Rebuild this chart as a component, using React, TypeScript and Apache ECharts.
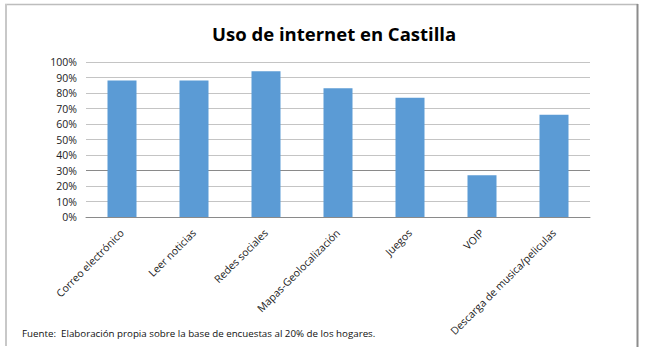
import React, { useEffect, useRef } from "react";
import * as echarts from "echarts";

const title = "Uso de internet en Castilla";
const footnote = "Fuente:  Elaboración propia sobre la base de encuestas al 20% de los hogares.";
const categories = [
  "Correo electrónico",
  "Leer noticias",
  "Redes sociales",
  "Mapas-Geolocalización",
  "Juegos",
  "VOIP",
  "Descarga de musica/peliculas",
];
const values = [88, 88, 94, 83, 77, 27, 66];

const FONT = "'Open Sans', 'Noto Sans', sans-serif";

export default function App() {
  const ref = useRef<HTMLDivElement>(null);
  useEffect(() => {
    if (!ref.current) return;
    const chart = echarts.init(ref.current, undefined, { renderer: "svg" });
    const gridColors = Array.from({ length: 11 }, (_, i) => (i === 3 ? "#8a8a8a" : "#c4c4c4"));
    chart.setOption({
      animation: false,
      backgroundColor: "#ffffff",
      title: {
        text: title,
        left: 207,
        top: 19,
        textStyle: { fontFamily: FONT, fontWeight: "bold", fontSize: 18.5, color: "#000000" },
      },
      grid: { left: 86, right: 57, top: 62, bottom: 137, containLabel: false },
      xAxis: {
        type: "category",
        data: categories,
        axisLine: { lineStyle: { color: "#8a8a8a", width: 1 } },
        axisTick: { show: false },
        axisLabel: {
          interval: 0,
          rotate: 45,
          margin: 14,
          fontFamily: FONT,
          fontSize: 10.5,
          color: "#222222",
        },
      },
      yAxis: {
        type: "value",
        min: 0,
        max: 100,
        interval: 10,
        axisLine: { show: false },
        axisTick: { show: false },
        splitLine: { lineStyle: { color: gridColors, width: 1 } },
        axisLabel: {
          formatter: "{value}%",
          margin: 9,
          fontFamily: FONT,
          fontSize: 10.5,
          color: "#222222",
        },
      },
      series: [
        {
          type: "bar",
          data: values,
          barWidth: 29,
          itemStyle: { color: "#5b9bd5" },
        },
      ],
      graphic: [
        { type: "line", shape: { x1: 5, y1: 4.5, x2: 638, y2: 4.5 }, style: { stroke: "#bdbdbd", lineWidth: 1.5 } },
        { type: "line", shape: { x1: 6, y1: 4, x2: 6, y2: 346 }, style: { stroke: "#c8c8c8", lineWidth: 2 } },
        { type: "line", shape: { x1: 637.5, y1: 4, x2: 637.5, y2: 347 }, style: { stroke: "#8c8c8c", lineWidth: 2 } },
        {
          type: "text",
          left: 22,
          top: 328,
          style: { text: footnote, fontFamily: FONT, fontSize: 9.75, fill: "#111111" },
        },
      ],
    });
    return () => chart.dispose();
  }, []);
  return (
    <div
      ref={ref}
      style={{ position: "fixed", left: 0, top: 0, width: 647, height: 354 }}
    />
  );
}
